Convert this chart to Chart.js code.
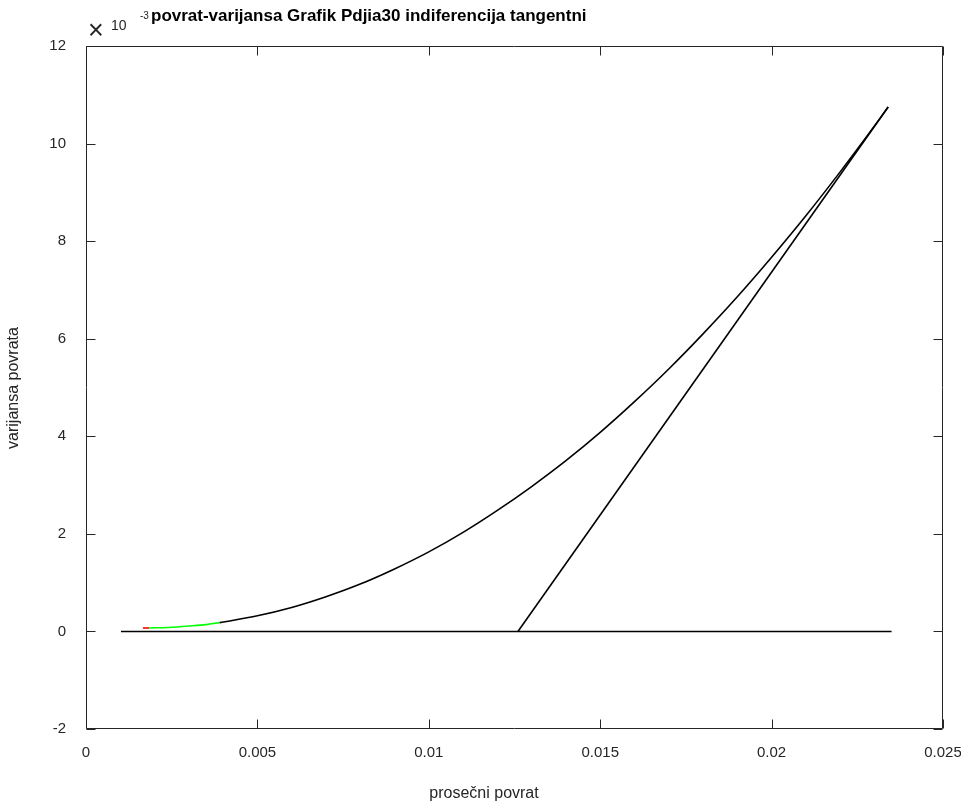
<!DOCTYPE html>
<html><head><meta charset="utf-8">
<script src="https://cdn.jsdelivr.net/npm/chart.js@4/dist/chart.umd.min.js"></script>
<style>html,body{margin:0;padding:0;background:#fff}#wrap{width:961px;height:801px;position:relative}</style>
</head><body><div id="wrap"><canvas id="c" width="961" height="801"></canvas></div>
<script>
// ---- text ----
const titleText = 'povrat-varijansa Grafik Pdjia30 indiferencija tangentni';
const xTitle = 'prosečni povrat';
const yTitle = 'varijansa povrata';
const yExponentBase = '10';
const yExponent = '-3';
// ---- ticks ----
const xTicks = [0, 0.005, 0.01, 0.015, 0.02, 0.025];
const yTicks = [-2, 0, 2, 4, 6, 8, 10, 12]; // in units of 10^-3
// ---- series (y in units of 10^-3) ----
const redX = [0.00166, 0.00184];
const redY = [0.07, 0.07];
const greenX = [0.00184, 0.0025, 0.003, 0.0035, 0.0039];
const greenY = [0.07, 0.085, 0.11, 0.14, 0.18];
const frontierX = [0.0039, 0.005, 0.006, 0.007, 0.008, 0.009, 0.010, 0.011, 0.012, 0.013, 0.014, 0.015, 0.016, 0.017, 0.018, 0.019, 0.020, 0.021, 0.022, 0.023, 0.0234];
const frontierY = [0.18, 0.32, 0.49, 0.71, 0.97, 1.28, 1.63, 2.03, 2.48, 2.97, 3.50, 4.08, 4.71, 5.38, 6.10, 6.86, 7.67, 8.52, 9.42, 10.36, 10.75];
const tangentX = [0.0126, 0.0234];
const tangentY = [0, 10.75];
const baselineX = [0.00102, 0.0235];
const baselineY = [0, 0];

const pts = (xs, ys) => xs.map((x, i) => ({x, y: ys[i]}));
const FONT = 'Liberation Sans, Arial, sans-serif';

const framePlugin = {
  id: 'frame',
  afterDraw(chart) {
    const {ctx, chartArea: a, scales: {x, y}} = chart;
    ctx.save();
    ctx.strokeStyle = '#262626';
    ctx.lineWidth = 1;
    const L = Math.round(a.left) + 0.5, R = Math.round(a.right) - 0.5,
          T = Math.round(a.top) + 0.5, B = Math.round(a.bottom) - 0.5;
    ctx.beginPath();
    ctx.rect(L, T, R - L, B - T);
    const tl = 9;
    x.ticks.forEach((t, i) => {
      const px = Math.round(x.getPixelForTick(i)) + 0.5;
      ctx.moveTo(px, B); ctx.lineTo(px, B - tl);
      ctx.moveTo(px, T); ctx.lineTo(px, T + tl);
    });
    y.ticks.forEach((t, i) => {
      const py = Math.round(y.getPixelForTick(i)) + 0.5;
      ctx.moveTo(L, py); ctx.lineTo(L + tl, py);
      ctx.moveTo(R, py); ctx.lineTo(R - tl, py);
    });
    ctx.stroke();
    // exponent label
    ctx.fillStyle = '#262626';
    ctx.textBaseline = 'alphabetic';
    ctx.textAlign = 'left';
    ctx.font = '27px ' + FONT;
    ctx.fillText('\u00d7', 88, 39);
    ctx.font = '14px ' + FONT;
    ctx.fillText(yExponentBase, 111, 30);
    ctx.font = '10px ' + FONT;
    ctx.fillText(yExponent, 140, 19);
    // title
    ctx.fillStyle = '#000';
    ctx.font = 'bold 17px ' + FONT;
    ctx.fillText(titleText, 151, 21);
    // axis titles
    ctx.fillStyle = '#262626';
    ctx.font = '16px ' + FONT;
    ctx.textAlign = 'center';
    ctx.textBaseline = 'middle';
    ctx.fillText(xTitle, 484, 794);
    ctx.translate(14, 388);
    ctx.rotate(-Math.PI / 2);
    ctx.fillText(yTitle, 0, 0);
    ctx.restore();
  }
};

const common = {showLine: true, pointRadius: 0, borderWidth: 1.6, fill: false};

new Chart(document.getElementById('c'), {
  type: 'scatter',
  data: {
    datasets: [
      {...common, data: pts(baselineX, baselineY), borderColor: '#000'},
      {...common, data: pts(tangentX, tangentY), borderColor: '#000'},
      {...common, data: pts(frontierX, frontierY), borderColor: '#000', cubicInterpolationMode: 'monotone'},
      {...common, data: pts(greenX, greenY), borderColor: '#00ff00', cubicInterpolationMode: 'monotone'},
      {...common, data: pts(redX, redY), borderColor: '#ff0000'}
    ]
  },
  options: {
    responsive: false,
    animation: false,
    devicePixelRatio: 1,
    layout: {padding: {left: 0, right: 0, top: 46, bottom: 0}},
    plugins: {legend: {display: false}, tooltip: {enabled: false}, title: {display: false}},
    scales: {
      x: {
        type: 'linear', min: xTicks[0], max: xTicks[xTicks.length - 1],
        afterBuildTicks: s => { s.ticks = xTicks.map(v => ({value: v})); },
        afterFit: s => { s.height = 72; s.paddingRight = 18; s.paddingLeft = 0; },
        grid: {display: false},
        border: {display: false},
        ticks: {color: '#262626', padding: 7, font: {family: FONT, size: 15},
                callback: v => String(+(+v).toFixed(4))},
        title: {display: false}
      },
      y: {
        type: 'linear', min: yTicks[0], max: yTicks[yTicks.length - 1],
        afterBuildTicks: s => { s.ticks = yTicks.map(v => ({value: v})); },
        afterFit: s => { s.width = 86; s.paddingTop = 0; s.paddingBottom = 0; },
        grid: {display: false},
        border: {display: false},
        ticks: {color: '#262626', padding: 12, font: {family: FONT, size: 15},
                callback: v => String(v)},
        title: {display: false}
      }
    }
  },
  plugins: [framePlugin]
});
</script></body></html>
